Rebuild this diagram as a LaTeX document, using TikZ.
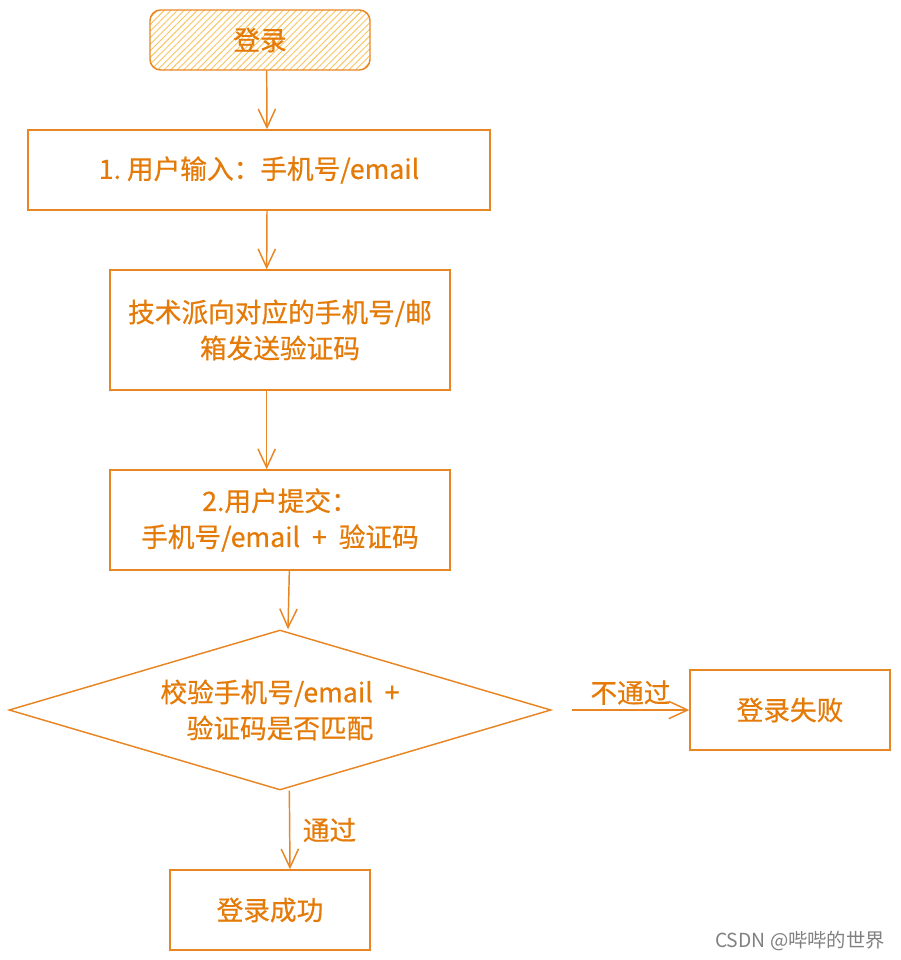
\documentclass[tikz,border=0pt]{standalone}
\usepackage{fontspec}
\setmainfont{Noto Sans CJK SC}
\newfontfamily\flowfont{Noto Sans CJK SC}[FakeBold=0.6]
\usepackage{tikz}
\usetikzlibrary{shapes.geometric,arrows.meta,patterns.meta}

\definecolor{flowline}{RGB}{232,134,36}
\definecolor{flowtext}{RGB}{228,122,8}
\definecolor{hatch}{RGB}{248,196,96}

\begin{document}
\begin{tikzpicture}[x=0.75pt,y=-0.75pt,
        box/.style={draw=flowline, line width=1.1pt, text=flowtext, align=center, font=\flowfont\fontsize{20}{27}\selectfont, inner sep=2pt},
        flow/.style={draw=flowline, line width=1.1pt, -{Straight Barb[length=14pt,width=13pt]}},
        lbl/.style={text=flowtext, font=\flowfont\fontsize{20}{24}\selectfont}]
    \useasboundingbox (0,0) rectangle (900,960);
    \node[box, rounded corners=8pt, pattern={Lines[angle=45,distance=3.5pt,line width=0.7pt]}, pattern color=hatch,
          minimum width=165pt, minimum height=45pt] (start) at (260,40) {登录};
    \node[box, minimum width=346.5pt, minimum height=60pt] (input) at (259,170) {1.\ 用户输入：手机号/email};
    \node[box, minimum width=255pt, minimum height=90pt] (send) at (280,330) {技术派向对应的手机号/邮\\箱发送验证码};
    \node[box, minimum width=255pt, minimum height=75pt] (submit) at (280,520) {2.用户提交：\\手机号/email \ + \ 验证码};
    \node[box, diamond, aspect=3.4, inner sep=0pt, minimum width=406.5pt, minimum height=120pt] (check) at (280,710) {校验手机号/email \ +\\验证码是否匹配};
    \node[box, minimum width=150pt, minimum height=60pt] (fail) at (790,710) {登录失败};
    \node[box, minimum width=150pt, minimum height=60pt] (ok) at (270,910) {登录成功};

    \draw[flow] ([xshift=5pt]start.south) -- ([xshift=6pt]input.north);
    \draw[flow] ([xshift=6pt]input.south) -- ([xshift=-10pt]send.north);
    \draw[flow] ([xshift=-10pt]send.south) -- ([xshift=-10pt]submit.north);
    \draw[flow] ([xshift=7pt]submit.south) -- ([xshift=6pt]check.north);
    \draw[flow] ([xshift=15pt]check.east) -- node[lbl, above] {不通过} (fail.west);
    \draw[flow] ([xshift=7pt]check.south) -- node[lbl, right, xshift=6pt] {通过} ([xshift=15pt]ok.north);

    \node[text=gray, font=\fontsize{14.5}{17}\selectfont] (mark) at (800,941) {CSDN @哔哔的世界};
\end{tikzpicture}
\end{document}
